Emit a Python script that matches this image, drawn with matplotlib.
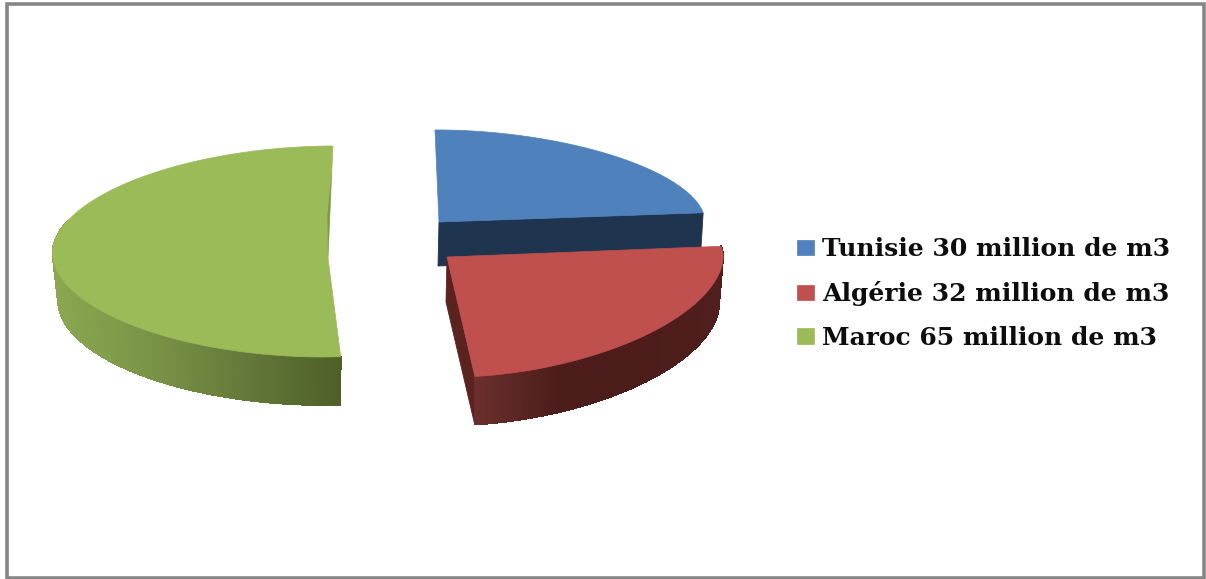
import numpy as np
import matplotlib
matplotlib.use("Agg")
import matplotlib.pyplot as plt
from matplotlib.collections import PolyCollection
from matplotlib.colors import LinearSegmentedColormap
from matplotlib.patches import Polygon, Rectangle

# data
countries = ["Tunisie", "Algérie", "Maroc"]
volumes = [30, 32, 65]

# colours
top_colors = ["#4f81bd", "#c0504d", "#9bbb59"]
inner_colors = ["#1f344e", "#5a2320", "#7f9a47"]
wall_ramps = [["#1f344e", "#1f344e"],
              ["#6a2f2c", "#4c1d1b", "#4c1d1b", "#501f1d"],
              ["#8ba751", "#7a9446", "#65793a", "#4e6027"]]

# slice layout, in image pixels
apex = [(439, 222), (447, 257), (328, 258)]
center = [(439, 222), (447, 257), (327.6, 251.5)]
radius_x = [265.5, 276, 275]
radius_y = [92, 120, 105.5]
shear_x = [4, 13, -5.3]
tilt_y = [-3, -3, 0]
depth = [44, 48, 48]
bottom_scale = [0.99, 0.985, 0.98]
roundness = [1.1, 1.12, 1.04]


def rim(i, theta, scale=1.0, drop=0.0):
    # theta runs clockwise from 12 o'clock, the rim is a bit flatter than an ellipse
    s = np.sign(np.sin(theta)) * np.abs(np.sin(theta)) ** roundness[i]
    c = np.sign(np.cos(theta)) * np.abs(np.cos(theta)) ** roundness[i]
    x = center[i][0] + scale * radius_x[i] * s - shear_x[i] * c
    y = center[i][1] - radius_y[i] * c + tilt_y[i] * s + drop
    return np.column_stack([x, y])


def draw_wall(ax, i, t1, t2):
    n = 160
    theta = np.linspace(t1, t2, n)
    upper = rim(i, theta)
    lower = rim(i, theta, bottom_scale[i], depth[i])
    quads = [[upper[k], upper[k + 1], lower[k + 1], lower[k]] for k in range(n - 1)]
    xmid = upper[:-1, 0]
    cmap = LinearSegmentedColormap.from_list("wall", wall_ramps[i])
    colors = cmap((xmid - xmid.min()) / (xmid.max() - xmid.min()))
    ax.add_collection(PolyCollection(quads, facecolors=colors, edgecolors=colors,
                                     linewidths=0.6, antialiaseds=False))


fig = plt.figure(figsize=(12.06, 5.79), dpi=100)
ax = fig.add_axes([0, 0, 1, 1])
ax.set_xlim(0, 1206)
ax.set_ylim(579, 0)
ax.axis("off")

ax.add_patch(Rectangle((6.5, 4), 1197, 574, facecolor="white", edgecolor="#868686", linewidth=2.6))

fractions = np.array(volumes) / sum(volumes)
stops = np.concatenate([[0], np.cumsum(fractions)]) * 2 * np.pi

handles = []
for i in [2, 0, 1]:
    t1, t2 = stops[i], stops[i + 1]
    ax_apex = np.array(apex[i], dtype=float)
    if i == 0:
        # flat inner wall under the cut facing the viewer
        end = rim(i, np.array([t2]))[0]
        end_low = rim(i, np.array([t2]), bottom_scale[i], depth[i])[0]
        ax.add_patch(Polygon([ax_apex, end, end_low, ax_apex + (-1, depth[i])],
                             facecolor=inner_colors[i], edgecolor=inner_colors[i], linewidth=0.6))
    if i == 1:
        end = rim(i, np.array([t2]))[0]
        end_low = rim(i, np.array([t2]), bottom_scale[i], depth[i])[0]
        ax.add_patch(Polygon([ax_apex, end, end_low, ax_apex + (-1, depth[i] - 3)],
                             facecolor=inner_colors[i], edgecolor=inner_colors[i], linewidth=0.6))
    if i > 0:
        draw_wall(ax, i, max(t1, np.pi * 0.4), min(t2, np.pi * 1.6))
    arc = rim(i, np.linspace(t1, t2, 200))
    top = Polygon(np.vstack([ax_apex, arc]), facecolor=top_colors[i], edgecolor=top_colors[i],
                  linewidth=0.5, label=f"{countries[i]} {volumes[i]} million de m3")
    ax.add_patch(top)
    handles.append(top)
    if i == 2:
        # thin sliver of the inner wall near the top of the cut
        end = rim(i, np.array([t2]))[0]
        sliver = [end + 0.22 * (ax_apex - end), ax_apex, end + 0.62 * (ax_apex - end) + (-2.5, 0)]
        ax.add_patch(Polygon(sliver, facecolor=inner_colors[i], edgecolor="none"))

order = [handles[1], handles[2], handles[0]]
ax.legend(handles=order, loc="center left", bbox_to_anchor=(797, 293.5), bbox_transform=ax.transData,
          frameon=False, handlelength=0.68, handleheight=0.56, handletextpad=0.32, labelspacing=0.79,
          borderpad=0, borderaxespad=0, labelcolor="#0d0d0d",
          prop={"family": "DejaVu Serif", "weight": "bold", "size": 18})

fig.savefig("out.png", dpi=100)
